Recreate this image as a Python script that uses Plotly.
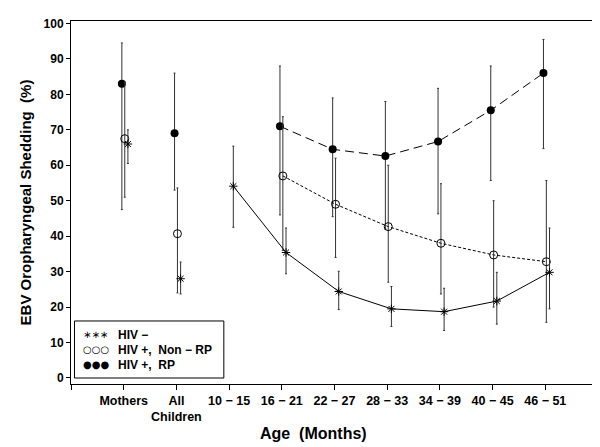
import plotly.graph_objects as go

# ---------------- data ----------------
categories = ["Mothers", "All<br>Children", "10 − 15", "16 − 21", "22 − 27",
              "28 − 33", "34 − 39", "40 − 45", "46 − 51"]

# HIV+, RP (filled circles)
rp_val = [83, 69, None, 71, 64.5, 62.6, 66.7, 75.5, 86]
rp_lo  = [47.5, 53, None, 46, 45.5, 42, 46.3, 55.7, 64.7]
rp_hi  = [94.5, 86, None, 88, 79, 78, 81.7, 88, 95.5]

# HIV+, Non-RP (open circles)
nrp_val = [67.5, 40.7, None, 57, 49, 42.7, 38, 34.7, 32.8]
nrp_lo  = [51, 24, None, 36, 34, 27, 23.7, 20, 15.7]
nrp_hi  = [83.5, 53.6, None, 73.7, 62, 60, 54.8, 50, 55.7]

# HIV- (asterisks)
neg_val = [66, 28, 54.1, 35.4, 24.4, 19.5, 18.7, 21.7, 29.8]
neg_lo  = [60.5, 23.7, 42.5, 29.4, 19.3, 14.5, 13.4, 15.2, 19.5]
neg_hi  = [70, 32.7, 65.4, 42.3, 30.1, 25.8, 25.3, 29.8, 42.3]

y_ticks = list(range(0, 101, 10))
legend_labels = ["HIV −", "HIV +,  Non − RP", "HIV +,  RP"]
legend_symbols = ["∗∗∗", "○○○", "●●●"]

FONT = "Liberation Sans, Arial, sans-serif"
pos = list(range(1, len(categories) + 1))

fig = go.Figure()

def add_series(vals, lo, hi, offset, marker, line_dash, line_start):
    xs = [p + offset for p in pos]
    plus = [None if v is None else h - v for v, h in zip(vals, hi)]
    minus = [None if v is None else v - l for v, l in zip(vals, lo)]
    fig.add_trace(go.Scatter(
        x=xs[line_start:], y=vals[line_start:], mode="lines",
        line=dict(color="black", width=1, dash=line_dash),
        hoverinfo="skip", showlegend=False))
    fig.add_trace(go.Scatter(
        x=xs, y=vals, mode="markers", marker=marker, showlegend=False,
        error_y=dict(type="data", symmetric=False, array=plus, arrayminus=minus,
                     color="#333333", thickness=1, width=1)))

add_series(rp_val, rp_lo, rp_hi, -0.035,
           dict(symbol="circle", size=8, color="black"), "9px,5px", 3)
add_series(nrp_val, nrp_lo, nrp_hi, 0.02,
           dict(symbol="circle-open", size=8, color="black", line=dict(width=1, color="black")),
           "3px,2px", 3)
add_series(neg_val, neg_lo, neg_hi, 0.08,
           dict(symbol="asterisk-open", size=7, color="black", line=dict(width=1, color="black")),
           "solid", 2)

# legend box drawn as shape + text
fig.add_shape(type="rect", xref="paper", yref="paper",
              x0=0.0066, x1=0.29, y0=0.0165, y1=0.1736,
              line=dict(color="black", width=1), fillcolor="white", layer="above")
rows_y = [0.1358, 0.0945, 0.053]
for sym, lab, yy in zip(legend_symbols, legend_labels, rows_y):
    fig.add_annotation(xref="paper", yref="paper", x=0.0465, y=yy, text=sym,
                       showarrow=False, xanchor="center", yanchor="middle",
                       font=dict(family="DejaVu Sans", size=10, color="black"))
    fig.add_annotation(xref="paper", yref="paper", x=0.0845, y=yy, text="<b>" + lab + "</b>",
                       showarrow=False, xanchor="left", yanchor="middle",
                       font=dict(family=FONT, size=12, color="black"))

# x-axis title (slightly left of centre, as in the reference)
fig.add_annotation(xref="paper", yref="paper", x=0.4606, y=-0.137,
                   text="<b>Age  (Months)</b>", showarrow=False,
                   xanchor="center", yanchor="middle",
                   font=dict(family=FONT, size=16, color="black"))

fig.update_layout(
    width=600, height=447,
    margin=dict(l=63, r=10, t=13, b=71),
    paper_bgcolor="white", plot_bgcolor="white",
    font=dict(family=FONT, size=12, color="black"),
    showlegend=False,
    xaxis=dict(range=[0, len(categories) + 1],
               tickvals=list(range(0, len(categories) + 2)),
               ticktext=[""] + ["<b>" + c.replace("<br>", "</b><br><b>") + "</b>" for c in categories] + [""],
               tickfont=dict(size=12.5),
               ticks="outside", ticklen=5, tickcolor="black",
               showline=True, linecolor="black", linewidth=1, mirror=True,
               showgrid=False, zeroline=False),
    yaxis=dict(range=[-1.7, 100.7], tickvals=y_ticks,
               ticktext=["<b>%d</b>" % t for t in y_ticks],
               ticks="outside", ticklen=4, tickcolor="black",
               showline=True, linecolor="black", linewidth=1, mirror=True,
               showgrid=False, zeroline=False,
               title=dict(text="<b>EBV Oropharyngeal Shedding  (%)</b>", font=dict(size=15), standoff=8)),
)

fig.write_html("out.html")
